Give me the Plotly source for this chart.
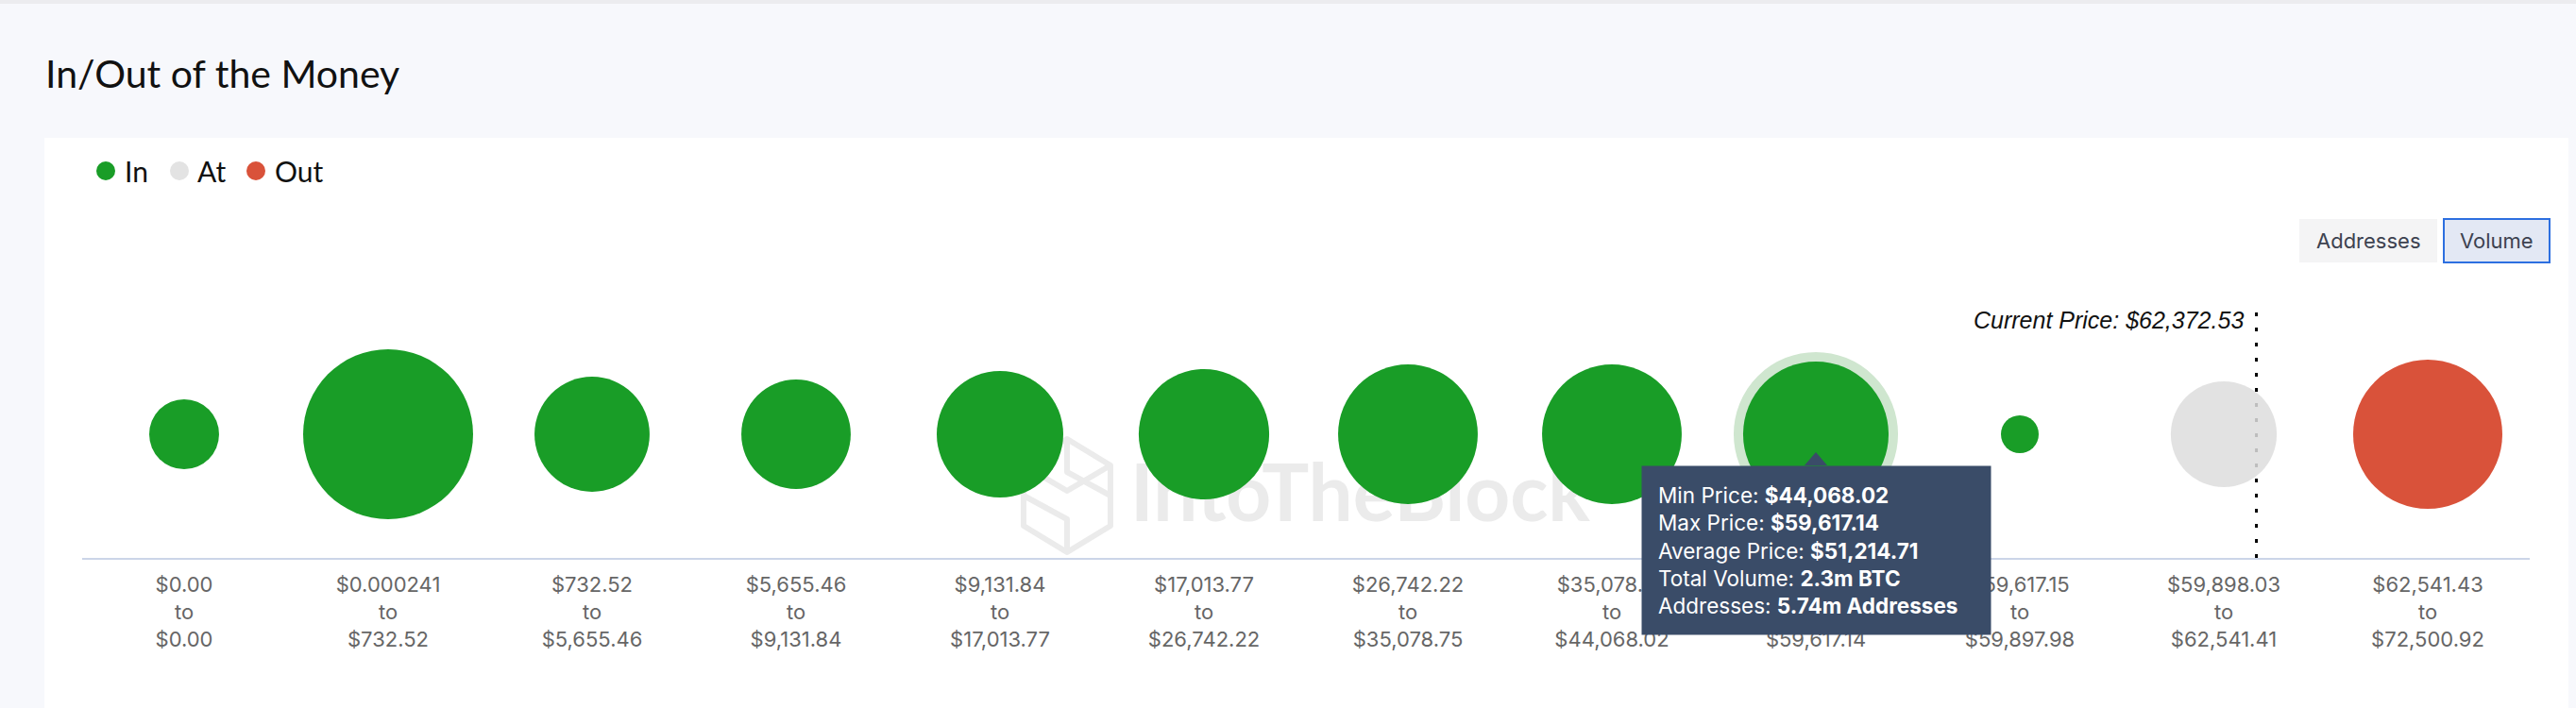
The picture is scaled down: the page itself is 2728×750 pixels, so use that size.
import base64
import plotly.graph_objects as go

# ---------------- data ----------------
range_min = ["$0.00", "$0.000241", "$732.52", "$5,655.46", "$9,131.84", "$17,013.77",
             "$26,742.22", "$35,078.75", "$44,068.02", "$59,617.15", "$59,898.03", "$62,541.43"]
range_max = ["$0.00", "$732.52", "$5,655.46", "$9,131.84", "$17,013.77", "$26,742.22",
             "$35,078.75", "$44,068.02", "$59,617.14", "$59,897.98", "$62,541.41", "$72,500.92"]
volume_m_btc = [0.53, 3.14, 1.44, 1.30, 1.74, 1.85, 2.12, 2.12, 2.30, 0.155, 1.22, 2.42]
status = ["In", "In", "In", "In", "In", "In", "In", "In", "In", "In", "At", "Out"]

current_price = "$62,372.53"
current_price_pos = 10.16          # position of current price on the category axis

hover_index = 8
tooltip_min = "$44,068.02"
tooltip_max = "$59,617.14"
tooltip_avg = "$51,214.71"
tooltip_vol = "2.3m BTC"
tooltip_addr = "5.74m Addresses"

categories = [f"{a}<br>to<br>{b}" for a, b in zip(range_min, range_max)]

# ---------------- geometry helpers ----------------
W, H = 2728, 750
L, R, T, B = 87, 2679, 329, 591
PW, PH = R - L, B - T


def fx(px):
    return (px - L) / PW


def fy(py):
    return (B - py) / PH


colors = {"In": "#199d27", "At": "#dedede", "Out": "#d9523a"}
MAX_D = 180
sizeref = 2.0 * max(volume_m_btc) / MAX_D ** 2

fig = go.Figure()

# hover halo
fig.add_trace(go.Scatter(
    x=[categories[hover_index]], y=[0], mode="markers",
    marker=dict(size=[volume_m_btc[hover_index]], sizemode="area", sizeref=sizeref, opacity=1,
                color="#cfe6cf", line=dict(width=20, color="#cfe6cf")),
    hoverinfo="skip", showlegend=False))

for st in ["In", "At", "Out"]:
    idx = [i for i, s in enumerate(status) if s == st]
    fig.add_trace(go.Scatter(
        x=[categories[i] for i in idx], y=[0] * len(idx), mode="markers", name=st,
        marker=dict(size=[volume_m_btc[i] for i in idx], sizemode="area", sizeref=sizeref,
                    color=colors[st], line=dict(width=0), opacity=1),
        opacity=0.85 if st == "At" else 1.0,
        showlegend=False))

shapes = []
# page background areas around the white panel
page_bg = "#f7f8fc"
shapes.append(dict(type="rect", xref="paper", yref="paper", x0=fx(0), x1=fx(W), y0=fy(146), y1=fy(0),
                   fillcolor=page_bg, line=dict(width=0), layer="below"))
shapes.append(dict(type="rect", xref="paper", yref="paper", x0=fx(0), x1=fx(W), y0=fy(4), y1=fy(0),
                   fillcolor="#ececef", line=dict(width=0), layer="below"))
shapes.append(dict(type="rect", xref="paper", yref="paper", x0=fx(0), x1=fx(47), y0=fy(H), y1=fy(146),
                   fillcolor=page_bg, line=dict(width=0), layer="below"))
shapes.append(dict(type="rect", xref="paper", yref="paper", x0=fx(2720), x1=fx(W), y0=fy(H), y1=fy(146),
                   fillcolor=page_bg, line=dict(width=0), layer="below"))

# current price dotted line
shapes.append(dict(type="line", xref="x", yref="paper", x0=current_price_pos, x1=current_price_pos,
                   y0=0, y1=fy(328), line=dict(color="black", width=3, dash="4px,12px"), layer="below"))

# legend dots
legend_items = [("In", 112, 133), ("At", 190, 210), ("Out", 271, 292)]
for name, cx, tx in legend_items:
    shapes.append(dict(type="circle", xref="paper", yref="paper",
                       x0=fx(cx - 10), x1=fx(cx + 10), y0=fy(191), y1=fy(171),
                       fillcolor=colors[name] if name != "At" else "#e3e3e3", line=dict(width=0)))

# buttons
shapes.append(dict(type="rect", xref="paper", yref="paper", x0=fx(2435), x1=fx(2581), y0=fy(278), y1=fy(232),
                   fillcolor="#f4f4f5", line=dict(width=0)))
shapes.append(dict(type="rect", xref="paper", yref="paper", x0=fx(2588), x1=fx(2700), y0=fy(278), y1=fy(232),
                   fillcolor="#e3e8f4", line=dict(width=2, color="#2d6fe0")))

# tooltip arrow
shapes.append(dict(type="path", xref="x", yref="y", xsizemode="pixel", ysizemode="pixel",
                   xanchor=categories[hover_index], yanchor=0,
                   path="M -12,-33 L 0,-19 L 12,-33 Z", fillcolor="#3a4c68", line=dict(width=0),
                   layer="above"))

annotations = []
annotations.append(dict(xref="paper", yref="paper", x=fx(46), y=fy(77), xanchor="left", yanchor="middle",
                        text="In/Out of the Money", showarrow=False,
                        font=dict(family="Lato", size=41, color="#111111")))
for name, cx, tx in legend_items:
    annotations.append(dict(xref="paper", yref="paper", x=fx(tx - 3), y=fy(181), xanchor="left",
                            yanchor="middle", text=name, showarrow=False,
                            font=dict(family="Lato", size=30, color="#111111")))
annotations.append(dict(xref="paper", yref="paper", x=fx(2508), y=fy(255), xanchor="center", yanchor="middle",
                        text="Addresses", showarrow=False, font=dict(family="Inter", size=22, color="#3d4250")))
annotations.append(dict(xref="paper", yref="paper", x=fx(2644), y=fy(255), xanchor="center", yanchor="middle",
                        text="Volume", showarrow=False, font=dict(family="Inter", size=22, color="#3d4250")))
annotations.append(dict(xref="x", yref="paper", x=current_price_pos, y=fy(339), xanchor="right",
                        yanchor="middle", xshift=-12, text=f"<i>Current Price: {current_price}</i>",
                        showarrow=False, font=dict(family="Liberation Sans", size=25, color="#111111")))

tooltip_text = (f"Min Price: <b>{tooltip_min}</b><br>Max Price: <b>{tooltip_max}</b><br>"
                f"Average Price: <b>{tooltip_avg}</b><br>Total Volume: <b>{tooltip_vol}</b><br>"
                f"Addresses: <b>{tooltip_addr}</b>")
annotations.append(dict(xref="x", yref="y", x=categories[hover_index], y=0, xanchor="center",
                        yanchor="top", yshift=-33, text=tooltip_text, showarrow=False, align="left",
                        bgcolor="#3a4c68", borderpad=17, width=335,
                        font=dict(family="Inter", size=22.5, color="white")))

# watermark
wm_svg = """<svg xmlns='http://www.w3.org/2000/svg' width='620' height='130' viewBox='0 0 620 130'>
<g fill='none' stroke='#ebebeb' stroke-width='6' stroke-linejoin='round'>
<polygon points='50,5 96,33 96,97 50,125 4,97 4,33'/>
<polyline points='50,5 50,40 96,65'/>
<polyline points='4,65 50,90 50,125'/>
<polyline points='4,33 50,60 96,33'/>
</g>
<text x='117' y='92' textLength='487' lengthAdjust='spacingAndGlyphs' font-family='Lato' font-weight='700'
 font-size='85' fill='#ebebeb'>IntoTheBlock</text>
</svg>"""
wm_uri = "data:image/svg+xml;base64," + base64.b64encode(wm_svg.encode()).decode()

fig.update_layout(
    width=W, height=H,
    margin=dict(l=L, r=W - R, t=T, b=H - B, pad=0, autoexpand=False),
    paper_bgcolor="white", plot_bgcolor="white",
    showlegend=False,
    shapes=shapes, annotations=annotations,
    images=[dict(source=wm_uri, xref="paper", yref="paper", x=fx(1080), y=fy(460),
                 sizex=620 / PW, sizey=130 / PH, xanchor="left", yanchor="top",
                 sizing="stretch", layer="below")],
    xaxis=dict(type="category", categoryorder="array", categoryarray=categories,
               range=[-0.5, len(categories) - 0.5], showgrid=False, zeroline=False,
               showline=True, linecolor="#cbd5e8", linewidth=2, ticks="",
               ticklabelstandoff=8,
               tickfont=dict(family="Inter", size=22, color="#666666"), automargin=False,
               fixedrange=True),
    yaxis=dict(range=[-1, 1], visible=False, fixedrange=True),
    hovermode=False,
)

fig.write_html("out.html")
